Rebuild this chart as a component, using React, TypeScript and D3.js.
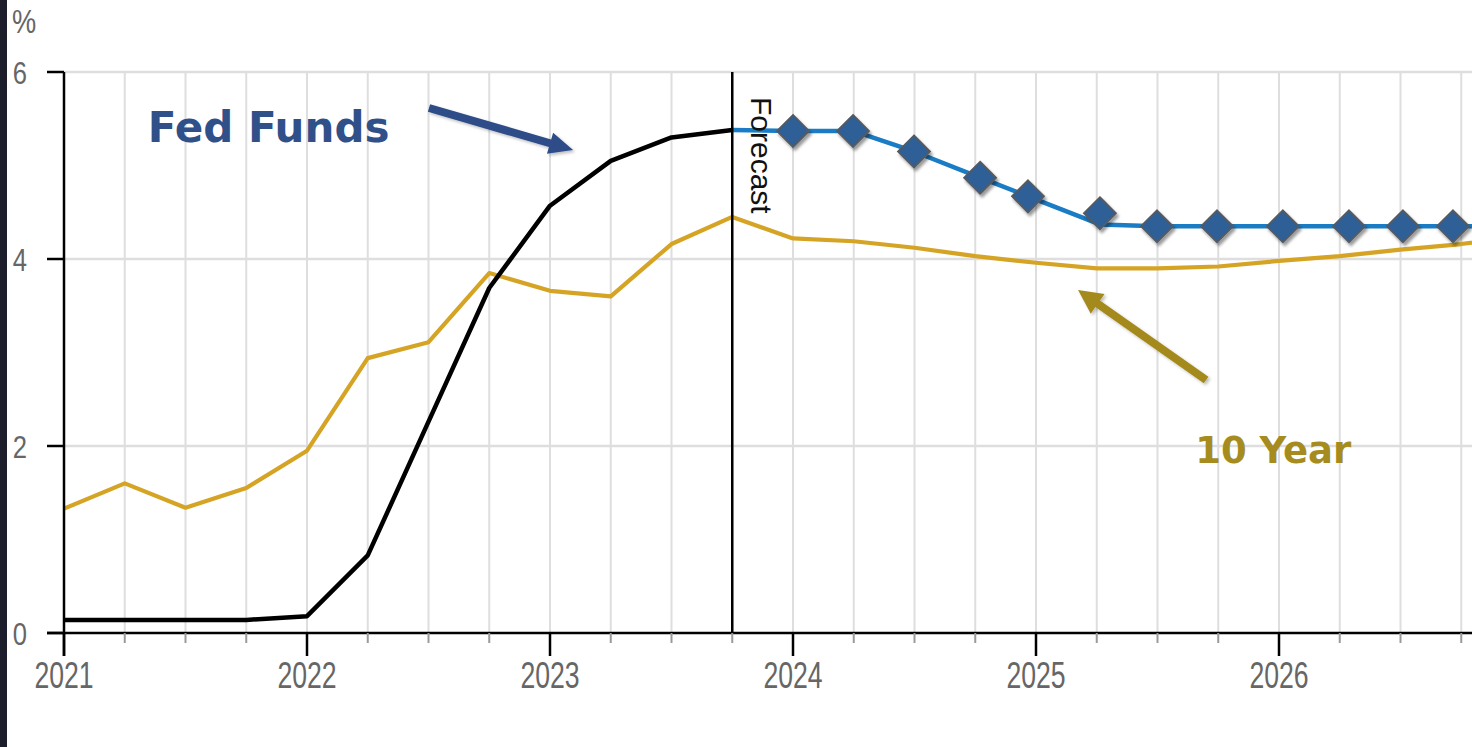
import React from "react";
import * as d3 from "d3";

// Quarterly history (decimal years)
const histDates = [2021.0, 2021.25, 2021.5, 2021.75, 2022.0, 2022.25, 2022.5, 2022.75, 2023.0, 2023.25, 2023.5, 2023.75];
const fedFundsHist = [0.14, 0.14, 0.14, 0.14, 0.18, 0.83, 2.26, 3.69, 4.57, 5.05, 5.3, 5.38];

// Fed funds forecast path
const fedForecastDates = [2023.75, 2024.0, 2024.247, 2024.498, 2024.77, 2024.967, 2025.263, 2025.498, 2025.745, 2026.016, 2026.288, 2026.51, 2026.716, 2027.0];
const fedForecastValues = [5.38, 5.37, 5.37, 5.15, 4.87, 4.67, 4.37, 4.35, 4.35, 4.35, 4.35, 4.35, 4.35, 4.35];

// FOMC meeting markers
const meetingDates = [2024.0, 2024.247, 2024.498, 2024.77, 2024.967, 2025.263, 2025.498, 2025.745, 2026.016, 2026.288, 2026.51, 2026.716];
const meetingValues = [5.37, 5.37, 5.15, 4.87, 4.67, 4.49, 4.35, 4.35, 4.35, 4.35, 4.35, 4.35];

// 10-year Treasury yield, quarterly
const tenYearDates = [2021.0, 2021.25, 2021.5, 2021.75, 2022.0, 2022.25, 2022.5, 2022.75, 2023.0, 2023.25, 2023.5, 2023.75, 2024.0, 2024.25, 2024.5, 2024.75, 2025.0, 2025.25, 2025.5, 2025.75, 2026.0, 2026.25, 2026.5, 2026.75, 2027.0];
const tenYearValues = [1.33, 1.6, 1.34, 1.55, 1.95, 2.94, 3.11, 3.85, 3.66, 3.6, 4.16, 4.45, 4.22, 4.19, 4.12, 4.03, 3.96, 3.9, 3.9, 3.92, 3.98, 4.03, 4.1, 4.16, 4.24];

const yearTicks = [2021, 2022, 2023, 2024, 2025, 2026];
const valueTicks = [0, 2, 4, 6];
const forecastStart = 2023.75;

const W = 1472;
const H = 747;

const x = d3.scaleLinear().domain([2021, 2027]).range([64, 64 + 6 * 243]);
const y = d3.scaleLinear().domain([0, 6]).range([633, 72]);

const quarterTicks = d3.range(2021, 2027.01, 0.25);

type Pt = [number, number];
const lineGen = d3.line<Pt>().x((d) => x(d[0])).y((d) => y(d[1]));

const zip = (a: number[], b: number[]): Pt[] => a.map((v, i) => [v, b[i]] as Pt);

// Block arrow polygon between two screen points
function arrowPath(t: Pt, h: Pt, shaft = 8, headLen = 24, headHalf = 12): string {
  const dx = h[0] - t[0];
  const dy = h[1] - t[1];
  const len = Math.hypot(dx, dy);
  const ux = dx / len;
  const uy = dy / len;
  const nx = -uy;
  const ny = ux;
  const bx = h[0] - ux * headLen;
  const by = h[1] - uy * headLen;
  const s = shaft / 2;
  const pts: Pt[] = [
    [t[0] + nx * s, t[1] + ny * s],
    [bx + nx * s, by + ny * s],
    [bx + nx * headHalf, by + ny * headHalf],
    [h[0], h[1]],
    [bx - nx * headHalf, by - ny * headHalf],
    [bx - nx * s, by - ny * s],
    [t[0] - nx * s, t[1] - ny * s],
  ];
  return "M" + pts.map((p) => p.join(",")).join("L") + "Z";
}

const fedArrow: [Pt, Pt] = [[2022.502, 5.615], [2023.095, 5.166]];
const tenArrow: [Pt, Pt] = [[2025.7, 2.706], [2025.173, 3.668]];
const fedLabelPos: Pt = [2021.345, 5.25];
const tenLabelPos: Pt = [2025.655, 1.82];

const toScreen = (p: Pt): Pt => [x(p[0]), y(p[1])];

const tickFont = "'Liberation Sans', Arial, sans-serif";
const labelFont = "'DejaVu Sans', Verdana, sans-serif";

export default function App() {
  const diamond = 16;
  return (
    <div style={{ position: "fixed", left: 0, top: 0 }}>
      <svg width={W} height={H} style={{ display: "block", background: "#ffffff" }}>
        <defs>
          <filter id="shadow" x="-30%" y="-30%" width="160%" height="160%">
            <feDropShadow dx="2" dy="3" stdDeviation="1.6" floodColor="#000" floodOpacity="0.4" />
          </filter>
          <filter id="softShadow" x="-20%" y="-20%" width="140%" height="140%">
            <feDropShadow dx="2" dy="2" stdDeviation="1.5" floodColor="#000" floodOpacity="0.25" />
          </filter>
        </defs>
        <rect x={0} y={0} width={W} height={H} fill="#ffffff" />

        {/* grid */}
        {quarterTicks.map((q) => (
          <line key={"vg" + q} x1={x(q)} x2={x(q)} y1={y(6)} y2={y(0)} stroke="#dedede" strokeWidth={2} />
        ))}
        {valueTicks.filter((v) => v > 0).map((v) => (
          <line key={"hg" + v} x1={x(2021)} x2={W} y1={y(v)} y2={y(v)} stroke="#dedede" strokeWidth={2.5} />
        ))}

        {/* series */}
        <path d={lineGen(zip(tenYearDates, tenYearValues)) || ""} fill="none" stroke="#d6a424" strokeWidth={4.2} strokeLinejoin="round" />
        <path d={lineGen(zip(histDates, fedFundsHist)) || ""} fill="none" stroke="#000000" strokeWidth={4.5} strokeLinejoin="round" />
        <path d={lineGen(zip(fedForecastDates, fedForecastValues)) || ""} fill="none" stroke="#1a7cc4" strokeWidth={4.5} strokeLinejoin="round" />

        {/* forecast divider */}
        <line x1={x(forecastStart)} x2={x(forecastStart)} y1={y(6)} y2={y(0)} stroke="#000" strokeWidth={2.5} />
        <text
          transform={`translate(${x(forecastStart) + 19},${y(6) + 25}) rotate(90)`}
          fontFamily={tickFont}
          fontSize={30}
          fill="#111"
        >
          Forecast
        </text>

        {/* meeting markers */}
        <g filter="url(#shadow)">
          {meetingDates.map((d, i) => {
            const cx = x(d);
            const cy = y(meetingValues[i]);
            return (
              <path
                key={"m" + i}
                d={`M${cx},${cy - diamond}L${cx + diamond},${cy}L${cx},${cy + diamond}L${cx - diamond},${cy}Z`}
                fill="#2f5e96"
                stroke="#555a60"
                strokeWidth={1.8}
              />
            );
          })}
        </g>

        {/* axes */}
        <line x1={x(2021)} x2={x(2021)} y1={y(6)} y2={y(0) + 23} stroke="#000" strokeWidth={2.5} />
        <line x1={47} x2={W} y1={y(0)} y2={y(0)} stroke="#000" strokeWidth={2.5} />
        {valueTicks.map((v) => (
          <g key={"yt" + v}>
            <line x1={47} x2={x(2021)} y1={y(v)} y2={y(v)} stroke="#000" strokeWidth={2.5} />
            <text
              transform={`translate(27,${y(v) + 11.5}) scale(0.8,1)`}
              textAnchor="end"
              fontFamily={tickFont}
              fontSize={32}
              fill="#666"
            >
              {v}
            </text>
          </g>
        ))}
        {quarterTicks.filter((q) => !yearTicks.includes(q)).map((q) => (
          <line key={"mt" + q} x1={x(q)} x2={x(q)} y1={y(0)} y2={y(0) + 10} stroke="#9a9a9a" strokeWidth={2} />
        ))}
        {yearTicks.map((yr) => (
          <g key={"xt" + yr}>
            <line x1={x(yr)} x2={x(yr)} y1={y(0)} y2={y(0) + 23} stroke="#000" strokeWidth={2.5} />
            <text
              transform={`translate(${x(yr)},688) scale(0.72,1)`}
              textAnchor="middle"
              fontFamily={tickFont}
              fontSize={37}
              fill="#666"
            >
              {yr}
            </text>
          </g>
        ))}
        <text transform="translate(12,33) scale(0.8,1)" fontFamily={tickFont} fontSize={34} fill="#666">
          %
        </text>

        {/* annotations */}
        <g filter="url(#softShadow)">
          <path d={arrowPath(toScreen(fedArrow[0]), toScreen(fedArrow[1]), 8, 24, 11)} fill="#2f4d88" />
          <path d={arrowPath(toScreen(tenArrow[0]), toScreen(tenArrow[1]), 8, 24, 12)} fill="#a48a1c" />
        </g>
        <text
          x={toScreen(fedLabelPos)[0]}
          y={toScreen(fedLabelPos)[1]}
          fontFamily={labelFont}
          fontWeight="bold"
          fontSize={42}
          fill="#30508a"
        >
          Fed Funds
        </text>
        <text
          x={toScreen(tenLabelPos)[0]}
          y={toScreen(tenLabelPos)[1]}
          fontFamily={labelFont}
          fontWeight="bold"
          fontSize={37}
          fill="#a68c1e"
        >
          10 Year
        </text>

        {/* left frame strip */}
        <rect x={0} y={0} width={7} height={H} fill="#1c1f2b" />
      </svg>
    </div>
  );
}
